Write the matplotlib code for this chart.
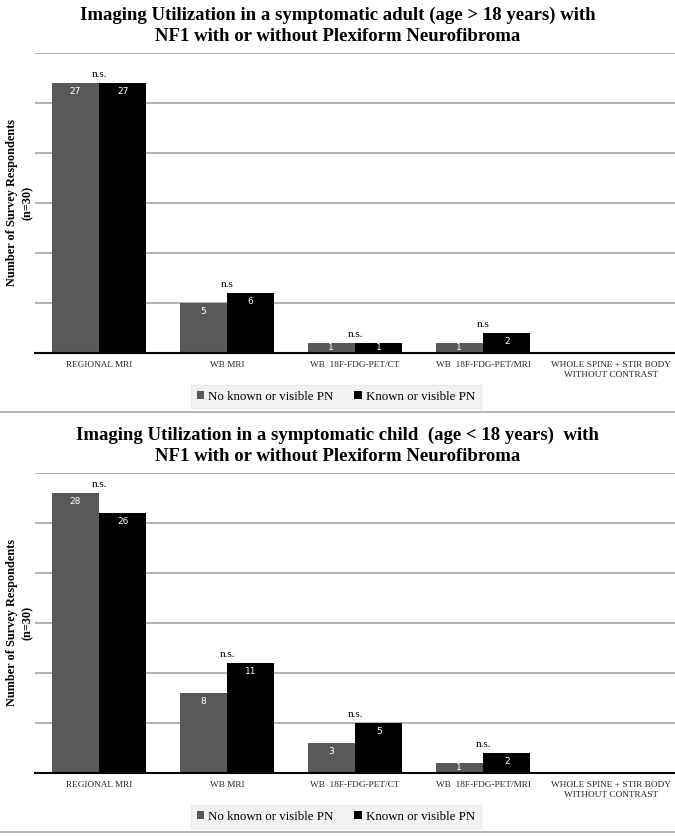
import matplotlib.pyplot as plt
from matplotlib.lines import Line2D
import numpy as np

plt.rcParams['font.family'] = ['Liberation Serif', 'DejaVu Serif']

categories = ["REGIONAL MRI", "WB MRI", "WB  18F-FDG-PET/CT", "WB  18F-FDG-PET/MRI",
              "WHOLE SPINE + STIR BODY\nWITHOUT CONTRAST"]
adult_no_pn = [27, 5, 1, 1, 0]
adult_pn = [27, 6, 1, 2, 0]
child_no_pn = [28, 8, 3, 1, 0]
child_pn = [26, 11, 5, 2, 0]
adult_sig = ["n.s.", "n.s", "n.s.", "n.s", ""]
child_sig = ["n.s.", "n.s.", "n.s.", "n.s.", ""]

adult_title = "Imaging Utilization in a symptomatic adult (age > 18 years) with\nNF1 with or without Plexiform Neurofibroma"
child_title = "Imaging Utilization in a symptomatic child  (age < 18 years)  with\nNF1 with or without Plexiform Neurofibroma"
series_names = ["No known or visible PN", "Known or visible PN"]

W, H = 675, 836
fig = plt.figure(figsize=(W / 100, H / 100), dpi=100)


def draw_panel(top_px, title, no_pn, pn, sig):
    # axes box in pixels: x 35..675, y top_px..top_px+300
    ax = fig.add_axes([35 / W, 1 - (top_px + 300) / H, 640 / W, 300 / H])
    x = np.arange(len(categories))
    w = 0.37
    b1 = ax.bar(x - w / 2, no_pn, w, color="#595959", label=series_names[0], zorder=3)
    b2 = ax.bar(x + w / 2, pn, w, color="#000000", label=series_names[1], zorder=3)
    for bars, vals in ((b1, no_pn), (b2, pn)):
        for bar, v in zip(bars, vals):
            if v == 0:
                continue
            y = max(v - 0.9, v / 2)
            ax.text(bar.get_x() + bar.get_width() / 2, y, str(v), color="white",
                    ha="center", va="center", fontsize=6.5, family="DejaVu Sans", zorder=4)
    for i, s in enumerate(sig):
        if s:
            ax.annotate(s, (x[i], max(no_pn[i], pn[i])), xytext=(0, 3),
                        textcoords="offset points", ha="center", va="bottom", fontsize=8)
    ax.set_xlim(-0.5, len(categories) - 0.5)
    ax.set_ylim(0, 30)
    ax.set_yticks(np.arange(5, 31, 5))
    ax.set_yticklabels([])
    ax.tick_params(axis="y", length=0)
    ax.grid(axis="y", color="#a6a6a6", linewidth=1.2, zorder=0)
    ax.set_xticks(x)
    ax.set_xticklabels(categories, fontsize=6.7, color="#262626")
    ax.tick_params(axis="x", length=0, pad=6)
    for side in ("top", "right", "left"):
        ax.spines[side].set_visible(False)
    ax.spines["bottom"].set_linewidth(1.5)
    ax.spines["bottom"].set_zorder(5)
    # y label placed by hand so it sits inside the left margin
    fig.text(20 / W, 1 - (top_px + 150) / H, "Number of Survey Respondents\n(n=30)",
             rotation=90, ha="center", va="center", fontsize=8.8,
             fontweight="bold", linespacing=1.45)
    fig.text(0.5, 1 - (top_px - 27) / H, title, ha="center", va="center",
             fontsize=13.5, fontweight="bold", linespacing=1.3)
    leg = ax.legend(loc="center", bbox_to_anchor=(0.47, -0.145), ncol=2, fontsize=9.3,
                    frameon=True, fancybox=False, handlelength=0.6, handleheight=0.6,
                    handletextpad=0.3, columnspacing=1.6, borderpad=0.45)
    leg.get_frame().set_facecolor("#efefef")
    leg.get_frame().set_edgecolor("#e6e6e6")
    return ax


draw_panel(53, adult_title, adult_no_pn, adult_pn, adult_sig)
draw_panel(473, child_title, child_no_pn, child_pn, child_sig)

for ypx in (412, 832):
    fig.add_artist(Line2D([0, 1], [1 - ypx / H, 1 - ypx / H], color="#a6a6a6", linewidth=1.2))

fig.savefig("out.png", dpi=100)
